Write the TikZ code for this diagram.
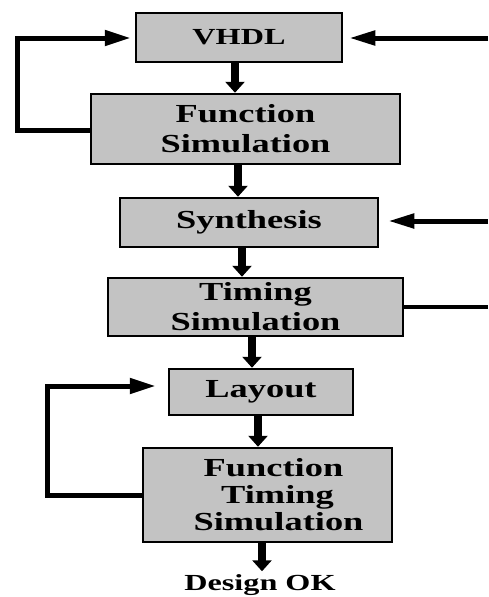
\documentclass[tikz,border=0pt]{standalone}
\usepackage{fontspec}
\newfontfamily\boxfont[FakeStretch=1.4]{Liberation Serif}
\usetikzlibrary{arrows.meta,calc}
\definecolor{boxgray}{HTML}{C3C3C3}
\tikzset{
  stage/.style={draw=black, line width=2.5pt, fill=boxgray, inner sep=0pt,
    align=center, font=\boxfont\bfseries\fontsize{26}{30}\selectfont},
  flow/.style={line width=8pt, -{Triangle[length=11pt,width=19pt]}},
  loop/.style={line width=5pt, line join=miter, -{Triangle[length=26pt,width=15pt]}},
  feed/.style={line width=5pt, -{Triangle[length=26pt,width=14pt]}},
  plain/.style={line width=4pt}
}
\begin{document}
\begin{tikzpicture}[x=1pt,y=-1pt]
\useasboundingbox (0,0) rectangle (488,597);
\node[stage, minimum width=206pt, minimum height=49pt, font=\boxfont\bfseries\fontsize{23}{26}\selectfont] (vhdl) at (239,37.5) {VHDL};
\node[stage, minimum width=309pt, minimum height=70pt] (fs) at (245.5,129) {Function\\Simulation};
\node[stage, minimum width=258pt, minimum height=49pt] (synth) at (249,222.5) {Synthesis};
\node[stage, minimum width=295pt, minimum height=58pt] (ts) at (255.5,307) {Timing\\Simulation};
\node[stage, minimum width=184pt, minimum height=46pt] (layout) at (261,392) {Layout};
\node[stage, minimum width=249pt, minimum height=94pt, font=\boxfont\bfseries\fontsize{26}{27}\selectfont] (fts) at (267.5,495) {\hspace*{12pt}Function\\\hspace*{20pt}Timing\\\hspace*{22pt}Simulation};
\node[inner sep=0pt, font=\boxfont\bfseries\fontsize{23}{26}\selectfont] (ok) at (260,585) {Design OK};

\coordinate (vin) at (488,38);
\coordinate (sin) at (488,221);
\coordinate (tout) at (488,307);

\draw[flow] (vhdl.south -| 235,0) -- (fs.north -| 235,0);
\draw[flow] (fs.south -| 238,0) -- (synth.north -| 238,0);
\draw[flow] (synth.south -| 242,0) -- (ts.north -| 242,0);
\draw[flow] (ts.south -| 252,0) -- (layout.north -| 252,0);
\draw[flow] (layout.south -| 258,0) -- (fts.north -| 258,0);
\draw[flow] (fts.south -| 262,0) -- ([yshift=3pt]ok.north -| 262,0);

\draw[loop] (fs.west |- 0,130) -- (17,130) -- (17,38) -- ($(vhdl.west)+(-4,0.5)$);
\draw[loop] (fts.west) -- (47,495) -- (47,386) -- ($(layout.west)+(-12,-6)$);

\draw[feed] (vin) -- ($(vhdl.east)+(6,0.5)$);
\draw[feed] (sin) -- ($(synth.east)+(9,-1.5)$);
\draw[plain] (ts.east) -- (tout);
\end{tikzpicture}
\end{document}
